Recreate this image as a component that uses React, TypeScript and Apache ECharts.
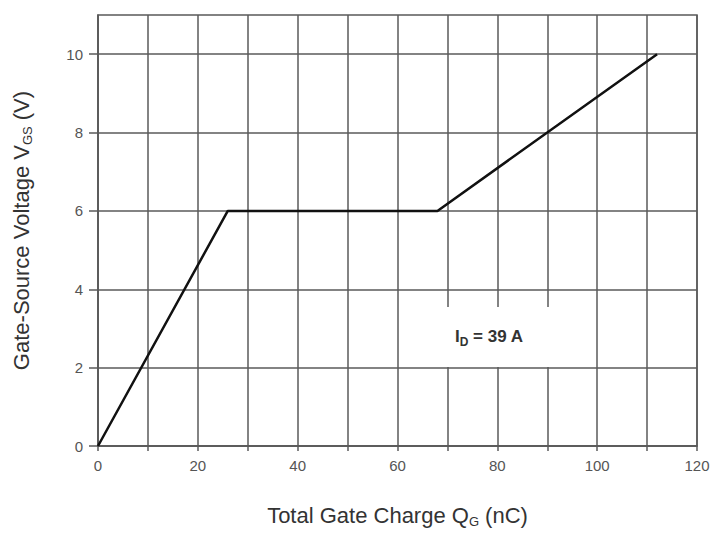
import React, { useEffect, useRef } from "react";
import * as echarts from "echarts";

const chargeNC = [0, 26, 68, 112];
const voltageV = [0, 6, 6, 10];
const xTickLabels = [0, 20, 40, 60, 80, 100, 120];
const yTickLabels = [0, 2, 4, 6, 8, 10];
const annotationParts = ["I", "D", " = 39 A"];

const FONT = "Liberation Sans, Arial, sans-serif";
const GRID = "#5a5a5a";

export default function App() {
  const ref = useRef<HTMLDivElement>(null);
  useEffect(() => {
    document.body.style.margin = "0";
    if (!ref.current) return;
    const chart = echarts.init(ref.current, null, { renderer: "svg" });
    const data = chargeNC.map((x, i) => [x, voltageV[i]]);
    const [sym, sub, rest] = annotationParts;
    const nameRich = {
      a: { fontSize: 22, color: "#333", fontFamily: FONT },
      s: { fontSize: 13, color: "#333", fontFamily: FONT, verticalAlign: "bottom", padding: [12, 0, 0, 0] },
    };
    chart.setOption({
      animation: false,
      backgroundColor: "#fff",
      textStyle: { fontFamily: FONT },
      grid: {
        left: 98,
        right: 29,
        top: 15,
        bottom: 82,
        show: true,
        borderColor: GRID,
        borderWidth: 1.5,
        backgroundColor: "transparent",
      },
      xAxis: {
        type: "value",
        min: 0,
        max: 120,
        interval: 10,
        name: "{a|Total Gate Charge Q}{s|G}{a| (nC)}",
        nameLocation: "middle",
        nameGap: 57,
        nameTextStyle: { rich: nameRich },
        axisLine: { show: true, lineStyle: { color: GRID, width: 1.5 } },
        axisTick: { show: true, length: 5, lineStyle: { color: GRID, width: 1.5 } },
        axisLabel: {
          customValues: xTickLabels,
          margin: 12,
          fontSize: 15,
          color: "#555",
          fontFamily: FONT,
        },
        splitLine: { show: true, lineStyle: { color: GRID, width: 1.5 } },
      },
      yAxis: {
        type: "value",
        min: 0,
        max: 11,
        interval: 1,
        name: "{a|Gate-Source Voltage V}{s|GS}{a| (V)}",
        nameLocation: "middle",
        nameGap: 64,
        nameRotate: 90,
        nameTextStyle: { rich: nameRich },
        axisLine: { show: true, lineStyle: { color: GRID, width: 1.5 } },
        axisTick: {
          show: true,
          customValues: yTickLabels,
          length: 9,
          lineStyle: { color: GRID, width: 1.5 },
        },
        axisLabel: {
          customValues: yTickLabels,
          margin: 15,
          fontSize: 15,
          color: "#555",
          fontFamily: FONT,
        },
        splitLine: { show: true, lineStyle: { color: GRID, width: 1.5 } },
      },
      graphic: [
        {
          type: "rect",
          z: 100,
          shape: { x: 437, y: 307, width: 143, height: 60 },
          style: { fill: "#fff" },
        },
        {
          type: "text",
          z: 101,
          x: 455,
          y: 336,
          style: {
            text: `{b|${sym}}{s|${sub}}{b|${rest}}`,
            verticalAlign: "middle",
            rich: {
              b: { fontSize: 17, fontWeight: "bold", fill: "#333", fontFamily: FONT },
              s: { fontSize: 12, fontWeight: "bold", fill: "#333", fontFamily: FONT, padding: [12, 0, 0, 0] },
            },
          },
        },
      ],
      series: [
        {
          type: "line",
          data,
          symbol: "none",
          lineStyle: { color: "#111", width: 2.5 },
          z: 5,
        },
      ],
    });
    return () => chart.dispose();
  }, []);
  return <div ref={ref} style={{ width: 726, height: 533 }} />;
}
